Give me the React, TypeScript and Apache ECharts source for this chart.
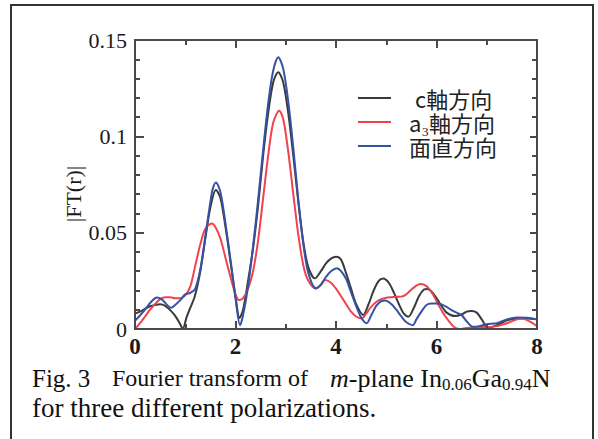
import React, { useEffect, useRef } from "react";
import * as echarts from "echarts";

const SERIES_NAMES = ["c軸方向", "a₃軸方向", "面直方向"];
const SERIES_COLORS = ["#3a3a3a", "#f0434d", "#3652a3"];

const cAxisCurve: [number, number][] = [
  [0, 0.008], [0.1, 0.009], [0.2, 0.0105], [0.3, 0.0118], [0.4, 0.0125], [0.5, 0.0128], [0.6, 0.012],
  [0.7, 0.0098], [0.8, 0.0068], [0.9, 0.0025], [0.95, 0.0], [1.03, 0.0064], [1.1, 0.011], [1.19, 0.017],
  [1.3, 0.03], [1.4, 0.047], [1.5, 0.063], [1.61, 0.0721], [1.7, 0.068], [1.8, 0.053], [1.9, 0.035],
  [2.0, 0.017], [2.08, 0.0057], [2.15, 0.01], [2.25, 0.025], [2.35, 0.042], [2.45, 0.064], [2.55, 0.09],
  [2.65, 0.112], [2.75, 0.128], [2.85, 0.1332], [2.95, 0.128], [3.05, 0.112], [3.15, 0.09], [3.25, 0.066],
  [3.35, 0.045], [3.45, 0.032], [3.58, 0.0263], [3.7, 0.03], [3.8, 0.034], [3.9, 0.0365], [4.0, 0.0375],
  [4.1, 0.036], [4.2, 0.029], [4.3, 0.021], [4.4, 0.013], [4.54, 0.0073], [4.65, 0.013], [4.75, 0.02],
  [4.85, 0.025], [4.94, 0.0262], [5.05, 0.024], [5.15, 0.019], [5.25, 0.013], [5.35, 0.008], [5.44, 0.0064],
  [5.55, 0.011], [5.65, 0.017], [5.75, 0.0205], [5.82, 0.0208], [5.9, 0.0195], [6.0, 0.016], [6.1, 0.012],
  [6.2, 0.0085], [6.37, 0.0067], [6.5, 0.0075], [6.6, 0.009], [6.7, 0.0093], [6.8, 0.0085], [6.9, 0.005],
  [7.03, 0.0005], [7.2, 0.002], [7.4, 0.0045], [7.6, 0.0055], [7.8, 0.0055], [8.0, 0.005],
];

const a3AxisCurve: [number, number][] = [
  [0, 0.0], [0.1, 0.003], [0.2, 0.0065], [0.3, 0.01], [0.4, 0.013], [0.5, 0.0155], [0.6, 0.0165],
  [0.7, 0.0165], [0.8, 0.016], [0.9, 0.016], [1.0, 0.0175], [1.1, 0.022], [1.2, 0.033], [1.3, 0.044],
  [1.4, 0.052], [1.53, 0.0548], [1.6, 0.053], [1.7, 0.047], [1.8, 0.037], [1.9, 0.027], [2.0, 0.018],
  [2.07, 0.015], [2.15, 0.016], [2.25, 0.021], [2.35, 0.03], [2.45, 0.046], [2.55, 0.068], [2.65, 0.09],
  [2.75, 0.107], [2.87, 0.1133], [2.95, 0.109], [3.05, 0.092], [3.15, 0.07], [3.25, 0.049], [3.35, 0.033],
  [3.45, 0.025], [3.6, 0.021], [3.7, 0.023], [3.78, 0.0254], [3.9, 0.024], [4.0, 0.021], [4.1, 0.017],
  [4.2, 0.013], [4.3, 0.009], [4.4, 0.0065], [4.51, 0.0055], [4.6, 0.008], [4.7, 0.0115], [4.8, 0.014],
  [4.9, 0.0155], [5.0, 0.0162], [5.1, 0.0165], [5.2, 0.0167], [5.3, 0.0168], [5.4, 0.018], [5.5, 0.0205],
  [5.6, 0.0225], [5.67, 0.0234], [5.75, 0.023], [5.85, 0.021], [5.95, 0.017], [6.05, 0.012], [6.15, 0.0075],
  [6.25, 0.004], [6.35, 0.001], [6.45, 0.0], [6.6, 0.0005], [6.8, 0.001], [7.0, 0.001], [7.2, 0.0015],
  [7.4, 0.003], [7.6, 0.005], [7.7, 0.0055], [7.85, 0.004], [8.0, 0.0015],
];

const normalCurve: [number, number][] = [
  [0, 0.0043], [0.1, 0.007], [0.2, 0.01], [0.3, 0.0135], [0.4, 0.016], [0.45, 0.0163], [0.55, 0.015],
  [0.65, 0.0122], [0.72, 0.011], [0.8, 0.0125], [0.9, 0.015], [1.0, 0.018], [1.1, 0.0188], [1.2, 0.021],
  [1.3, 0.031], [1.4, 0.048], [1.5, 0.066], [1.55, 0.073], [1.61, 0.0761], [1.7, 0.071], [1.8, 0.055],
  [1.9, 0.036], [2.0, 0.016], [2.09, 0.002], [2.15, 0.007], [2.25, 0.022], [2.35, 0.043], [2.45, 0.067],
  [2.55, 0.093], [2.65, 0.117], [2.75, 0.134], [2.85, 0.141], [2.95, 0.135], [3.05, 0.118], [3.15, 0.094],
  [3.25, 0.067], [3.35, 0.044], [3.45, 0.029], [3.6, 0.0211], [3.7, 0.023], [3.8, 0.027], [3.9, 0.03],
  [4.02, 0.0315], [4.1, 0.03], [4.2, 0.026], [4.3, 0.019], [4.4, 0.012], [4.5, 0.006], [4.61, 0.003],
  [4.7, 0.007], [4.8, 0.012], [4.9, 0.0145], [4.98, 0.0148], [5.1, 0.013], [5.2, 0.01], [5.3, 0.0065],
  [5.4, 0.0035], [5.53, 0.002], [5.6, 0.005], [5.7, 0.009], [5.8, 0.0125], [5.9, 0.0132], [6.0, 0.0132],
  [6.1, 0.0128], [6.2, 0.0115], [6.3, 0.0098], [6.4, 0.0085], [6.5, 0.0072], [6.6, 0.004], [6.72, 0.0012],
  [6.85, 0.0015], [7.0, 0.0025], [7.2, 0.003], [7.4, 0.005], [7.6, 0.006], [7.8, 0.0058], [8.0, 0.005],
];

const X_MIN = 0;
const X_MAX = 8;
const X_INTERVAL = 2;
const Y_MIN = 0;
const Y_MAX = 0.15;
const Y_INTERVAL = 0.05;

const Y_AXIS_TITLE = "|FT(r)|";
const CAPTION_LEAD = "Fig. 3";
const CAPTION_MID = "Fourier transform of";
const CAPTION_TAIL = "{i|m}-plane In{s|0.06}Ga{s|0.94}N";
const CAPTION_LINE2 = "for three different polarizations.";

const SERIF = "Liberation Serif";
const SANS = "Noto Sans CJK JP";
const AXIS_COLOR = "#4a4a4a";

function axisLine() {
  return { show: true, onZero: false, lineStyle: { color: AXIS_COLOR, width: 2 } };
}
function tick(len: number) {
  return { show: true, inside: true, length: len, lineStyle: { color: AXIS_COLOR, width: 2 } };
}
function minor(n: number) {
  return { show: true, splitNumber: n, length: 5, lineStyle: { color: AXIS_COLOR, width: 2 } };
}
function hiddenLabel() {
  return { show: true, color: "rgba(0,0,0,0)", fontSize: 6, margin: 2 };
}

export default function App() {
  const ref = useRef<HTMLDivElement>(null);

  useEffect(() => {
    document.body.style.margin = "0";
    if (!ref.current) return;
    const chart = echarts.init(ref.current, undefined, { renderer: "svg" });
    const curves = [cAxisCurve, a3AxisCurve, normalCurve];

    chart.setOption({
      animation: false,
      grid: {
        left: 135,
        right: 61,
        top: 40,
        bottom: 110,
        show: true,
        z: 10,
        borderColor: AXIS_COLOR,
        borderWidth: 2,
        backgroundColor: "rgba(0,0,0,0)",
      },
      xAxis: [
        {
          type: "value",
          min: X_MIN,
          max: X_MAX,
          interval: X_INTERVAL,
          position: "bottom",
          z: 10,
          axisLine: axisLine(),
          axisTick: tick(8),
          minorTick: minor(2),
          splitLine: { show: false },
          axisLabel: {
            margin: 6,
            fontFamily: SERIF,
            fontSize: 23,
            fontWeight: "bold",
            color: "#1a1a1a",
          },
        },
        {
          type: "value",
          min: X_MIN,
          max: X_MAX,
          interval: X_INTERVAL,
          position: "top",
          z: 10,
          axisLine: axisLine(),
          axisTick: tick(8),
          minorTick: minor(2),
          splitLine: { show: false },
          axisLabel: hiddenLabel(),
        },
      ],
      yAxis: [
        {
          type: "value",
          min: Y_MIN,
          max: Y_MAX,
          interval: Y_INTERVAL,
          position: "left",
          z: 10,
          axisLine: axisLine(),
          axisTick: tick(9),
          minorTick: minor(5),
          splitLine: { show: false },
          axisLabel: {
            margin: 8,
            fontFamily: SERIF,
            fontSize: 22,
            color: "#1a1a1a",
          },
        },
        {
          type: "value",
          min: Y_MIN,
          max: Y_MAX,
          interval: Y_INTERVAL,
          position: "right",
          z: 10,
          axisLine: axisLine(),
          axisTick: tick(7),
          minorTick: minor(5),
          splitLine: { show: false },
          axisLabel: hiddenLabel(),
        },
      ],
      legend: {
        show: true,
        orient: "vertical",
        left: 353,
        top: 82,
        itemWidth: 33,
        itemHeight: 2,
        itemGap: 2,
        icon: "rect",
        selectedMode: false,
        align: "left",
        data: SERIES_NAMES.map((n, i) => ({ name: n, itemStyle: { color: SERIES_COLORS[i] } })),
        formatter: (name: string) => (name === SERIES_NAMES[0] ? "{c|c}{t|軸方向}" : "{t|" + name + "}"),
        textStyle: {
          fontFamily: SANS,
          fontSize: 22,
          lineHeight: 20,
          color: "#222222",
          padding: [0, 0, 0, 13],
          rich: {
            t: { fontFamily: SANS, fontSize: 22, lineHeight: 20, color: "#222222" },
            c: { fontFamily: SANS, fontSize: 22, lineHeight: 20, color: "#222222", padding: [0, 0, 0, 6] },
          },
        },
      },
      graphic: [
        {
          type: "text",
          x: 73,
          y: 194,
          rotation: Math.PI / 2,
          style: {
            text: Y_AXIS_TITLE,
            fontFamily: SERIF,
            fontSize: 22,
            fill: "#1a1a1a",
            align: "center",
            verticalAlign: "middle",
          },
        },
        {
          type: "text",
          x: 32,
          y: 378,
          style: { text: CAPTION_LEAD, fontFamily: SERIF, fontSize: 25, fill: "#111111", verticalAlign: "middle" },
        },
        {
          type: "text",
          x: 112,
          y: 378,
          style: { text: CAPTION_MID, fontFamily: SERIF, fontSize: 24, fill: "#111111", verticalAlign: "middle" },
        },
        {
          type: "text",
          x: 330,
          y: 378,
          style: {
            text: CAPTION_TAIL,
            fontFamily: SERIF,
            fontSize: 26,
            fill: "#111111",
            verticalAlign: "middle",
            lineHeight: 30,
            rich: {
              i: { fontFamily: SERIF, fontSize: 26, fontStyle: "italic", lineHeight: 30, color: "#111111" },
              s: { fontFamily: SERIF, fontSize: 17, lineHeight: 14, verticalAlign: "bottom", color: "#111111" },
            },
          },
        },
        {
          type: "text",
          x: 32,
          y: 408,
          style: { text: CAPTION_LINE2, fontFamily: SERIF, fontSize: 27, fill: "#111111", verticalAlign: "middle" },
        },
      ],
      series: [
        ...SERIES_NAMES.map((name, i) => ({
          name,
          type: "line",
          xAxisIndex: 0,
          yAxisIndex: 0,
          data: curves[i],
          showSymbol: false,
          smooth: 0.3,
          lineStyle: { color: SERIES_COLORS[i], width: 2 },
          itemStyle: { color: SERIES_COLORS[i] },
        })),
        {
          name: "mirror",
          type: "line",
          xAxisIndex: 1,
          yAxisIndex: 1,
          data: normalCurve,
          silent: true,
          showSymbol: false,
          lineStyle: { opacity: 0, width: 0 },
        },
      ],
    });

    return () => chart.dispose();
  }, []);

  return (
    <div style={{ position: "relative", width: 598, height: 439, overflow: "hidden", background: "#ffffff" }}>
      <div ref={ref} style={{ position: "absolute", left: 0, top: 0, width: 598, height: 439 }} />
      <div
        style={{
          position: "absolute",
          left: 10,
          top: 4,
          width: 584,
          height: 450,
          border: "2px solid #333333",
          boxSizing: "border-box",
          pointerEvents: "none",
        }}
      />
    </div>
  );
}
